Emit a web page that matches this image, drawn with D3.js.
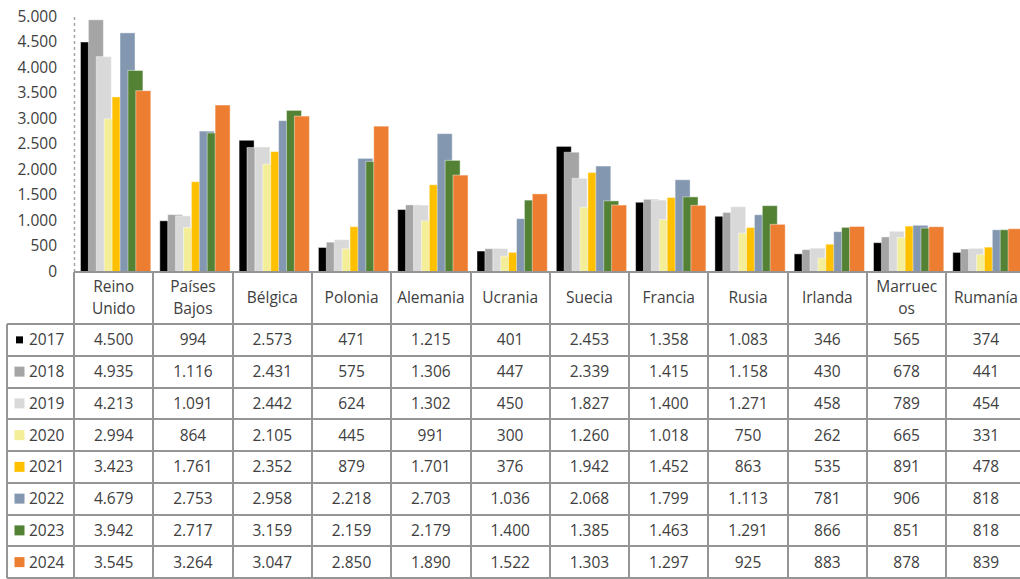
<!DOCTYPE html>
<html>
<head>
<meta charset="utf-8">
<script src="https://cdn.jsdelivr.net/npm/d3@7"></script>
<style>
  html, body { margin: 0; padding: 0; background: #fff; }
  svg { display: block; font-family: "Open Sans", sans-serif; }
</style>
</head>
<body>
<div id="chart"></div>
<script>
const countries = ["Reino Unido", "Países Bajos", "Bélgica", "Polonia", "Alemania", "Ucrania",
  "Suecia", "Francia", "Rusia", "Irlanda", "Marruecos", "Rumanía"];
// header text as it wraps in the table cells
const countryLines = [["Reino", "Unido"], ["Países", "Bajos"], ["Bélgica"], ["Polonia"], ["Alemania"],
  ["Ucrania"], ["Suecia"], ["Francia"], ["Rusia"], ["Irlanda"], ["Marruec", "os"], ["Rumanía"]];
const years = ["2017", "2018", "2019", "2020", "2021", "2022", "2023", "2024"];

const v2017 = [4500, 994, 2573, 471, 1215, 401, 2453, 1358, 1083, 346, 565, 374];
const v2018 = [4935, 1116, 2431, 575, 1306, 447, 2339, 1415, 1158, 430, 678, 441];
const v2019 = [4213, 1091, 2442, 624, 1302, 450, 1827, 1400, 1271, 458, 789, 454];
const v2020 = [2994, 864, 2105, 445, 991, 300, 1260, 1018, 750, 262, 665, 331];
const v2021 = [3423, 1761, 2352, 879, 1701, 376, 1942, 1452, 863, 535, 891, 478];
const v2022 = [4679, 2753, 2958, 2218, 2703, 1036, 2068, 1799, 1113, 781, 906, 818];
const v2023 = [3942, 2717, 3159, 2159, 2179, 1400, 1385, 1463, 1291, 866, 851, 818];
const v2024 = [3545, 3264, 3047, 2850, 1890, 1522, 1303, 1297, 925, 883, 878, 839];

const yTicks = [0, 500, 1000, 1500, 2000, 2500, 3000, 3500, 4000, 4500, 5000];
const colors = ["#000000", "#a5a5a5", "#d9d9d9", "#f4ee98", "#ffc000", "#8497b0", "#548235", "#ed7d31"];

const series = [v2017, v2018, v2019, v2020, v2021, v2022, v2023, v2024].map((values, i) => ({
  year: years[i],
  color: colors[i],
  values,
}));

const width = 1020;
const height = 579;
const plotLeft = 74;
const bandStep = 79.3;
const axisY = 271.5;
const tableLeft = 7;
const tableTop = 324;
const rowH = 31.75;
const textColor = "#404040";
const gridColor = "#959595";

const fmt = d3.formatLocale({ decimal: ",", thousands: ".", grouping: [3], currency: ["", ""] }).format(",d");

const x0 = d3.scaleBand()
  .domain(countries)
  .range([plotLeft, plotLeft + bandStep * countries.length])
  .padding(0);

// bars overlap by about half their width, like the original
const x1 = d3.scaleBand()
  .domain(years)
  .range([6.5, 6.5 + 8 * 7.9]);
const barW = x1.bandwidth() * 1.9;

const y = d3.scaleLinear().domain([0, 5000]).range([axisY, 16.5]);

const svg = d3.select("#chart")
  .append("svg")
  .attr("width", width)
  .attr("height", height)
  .attr("viewBox", [0, 0, width, height]);

// y axis: dashed line, labels only
const yAxis = svg.append("g")
  .attr("transform", `translate(${plotLeft},0)`)
  .call(d3.axisLeft(y).tickValues(yTicks).tickFormat(fmt).tickSize(0).tickPadding(17));
yAxis.select(".domain")
  .attr("stroke", "#a6a6a6")
  .attr("stroke-width", 1.5)
  .attr("stroke-dasharray", "3,3");
yAxis.selectAll("text")
  .attr("font-size", 15.5)
  .attr("fill", textColor)
  .attr("font-family", "Open Sans, sans-serif");

// bars, one year at a time so later years sit on top
svg.append("g")
  .selectAll("g")
  .data(series)
  .join("g")
  .attr("fill", (d) => d.color)
  .selectAll("rect")
  .data((d) => d.values.map((v, i) => ({ year: d.year, country: countries[i], value: v })))
  .join("rect")
  .attr("x", (d) => x0(d.country) + x1(d.year))
  .attr("y", (d) => y(d.value))
  .attr("width", barW)
  .attr("height", (d) => y(0) - y(d.value))
  .attr("stroke", "#ffffff")
  .attr("stroke-opacity", 0.45)
  .attr("stroke-width", 1);

// data table grid
const tableRight = x0.range()[1];
const tableBottom = tableTop + rowH * years.length;
const grid = svg.append("g")
  .attr("stroke", gridColor)
  .attr("stroke-width", 2)
  .attr("shape-rendering", "crispEdges");

grid.append("line")
  .attr("x1", plotLeft).attr("x2", tableRight)
  .attr("y1", axisY).attr("y2", axisY);

grid.selectAll(".vline")
  .data(d3.range(countries.length + 1))
  .join("line")
  .attr("class", "vline")
  .attr("x1", (i) => plotLeft + i * x0.step())
  .attr("x2", (i) => plotLeft + i * x0.step())
  .attr("y1", axisY)
  .attr("y2", tableBottom);

grid.append("line")
  .attr("x1", tableLeft).attr("x2", tableLeft)
  .attr("y1", tableTop).attr("y2", tableBottom);

grid.selectAll(".hline")
  .data(d3.range(years.length + 1))
  .join("line")
  .attr("class", "hline")
  .attr("x1", tableLeft)
  .attr("x2", tableRight)
  .attr("y1", (i) => Math.min(tableTop + i * rowH, height - 1))
  .attr("y2", (i) => Math.min(tableTop + i * rowH, height - 1));

// header cells with country names
const headMid = (axisY + tableTop) / 2;
svg.append("g")
  .selectAll("text")
  .data(countryLines)
  .join("text")
  .attr("text-anchor", "middle")
  .attr("font-size", 15.5)
  .attr("fill", textColor)
  .attr("x", (d, i) => x0(countries[i]) + x0.bandwidth() / 2)
  .attr("y", headMid)
  .selectAll("tspan")
  .data((d) => d.map((t, j) => ({ t, dy: (j - (d.length - 1) / 2) * 22 })))
  .join("tspan")
  .attr("x", function () { return this.parentNode.getAttribute("x"); })
  .attr("y", (d) => headMid + d.dy)
  .attr("dy", "0.35em")
  .text((d) => d.t);

// rows: legend key + year, then values
const rows = svg.append("g")
  .selectAll("g")
  .data(series)
  .join("g")
  .attr("transform", (d, i) => `translate(0,${tableTop + i * rowH + rowH / 2})`);

rows.append("rect")
  .attr("x", (d, i) => (i === 0 ? 16 : 14.5))
  .attr("y", (d, i) => (i === 0 ? -3.5 : -5))
  .attr("width", (d, i) => (i === 0 ? 7 : 10))
  .attr("height", (d, i) => (i === 0 ? 7 : 10))
  .attr("fill", (d) => d.color);

rows.append("text")
  .attr("x", 29)
  .attr("dy", "0.35em")
  .attr("font-size", 15.5)
  .attr("fill", textColor)
  .text((d) => d.year);

rows.selectAll(".val")
  .data((d) => d.values.map((v, i) => ({ country: countries[i], value: v })))
  .join("text")
  .attr("class", "val")
  .attr("x", (d) => x0(d.country) + x0.bandwidth() / 2)
  .attr("dy", "0.35em")
  .attr("text-anchor", "middle")
  .attr("font-size", 15.5)
  .attr("fill", textColor)
  .text((d) => fmt(d.value));
</script>
</body>
</html>
